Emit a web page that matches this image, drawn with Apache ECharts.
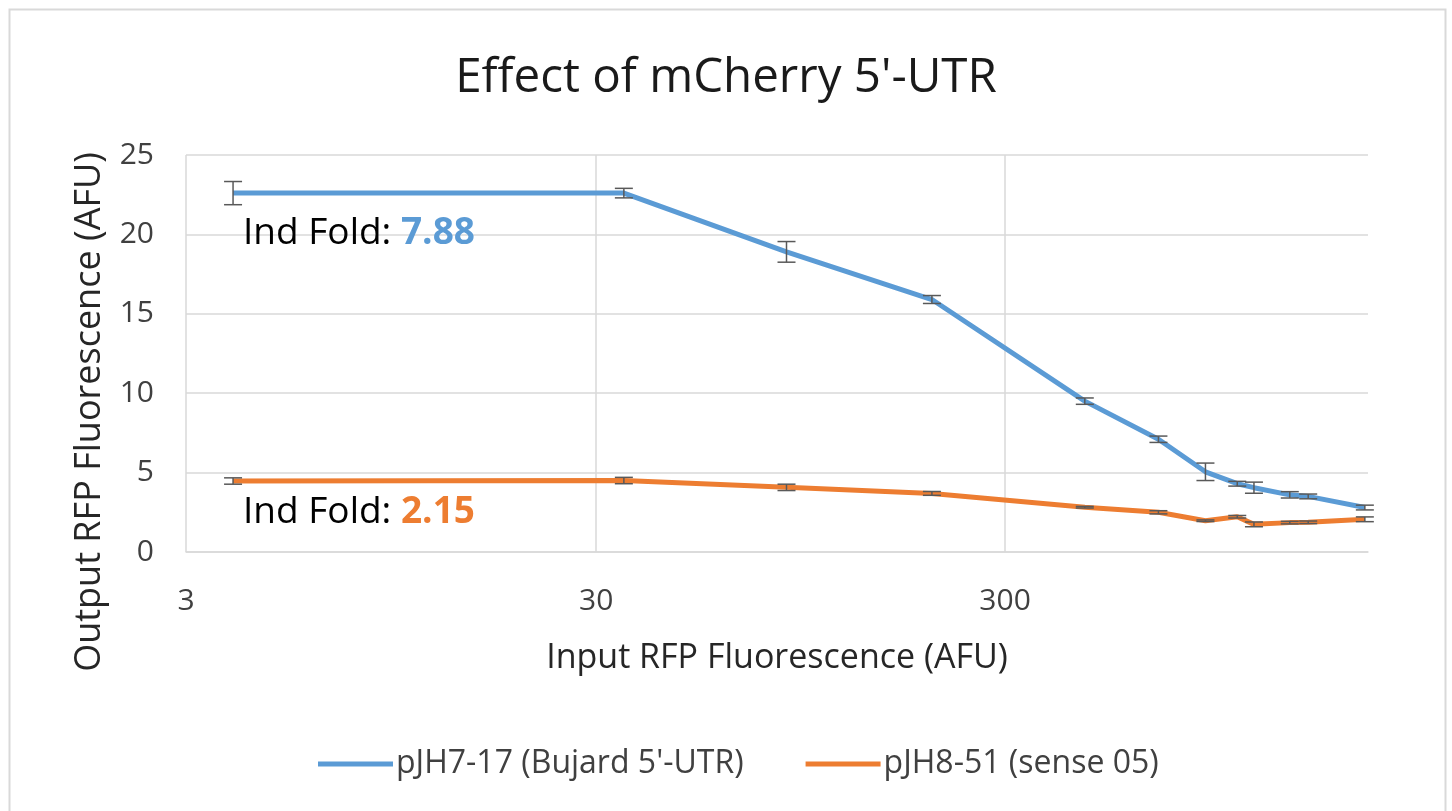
<!DOCTYPE html>
<html>
<head>
<meta charset="utf-8">
<script src="https://cdn.jsdelivr.net/npm/echarts@6/dist/echarts.min.js"></script>
<style>
  html, body { margin: 0; padding: 0; background: #fff; }
  #chart { width: 1452px; height: 811px; }
</style>
</head>
<body>
<div id="chart"></div>
<script>
// input RFP (x, log axis) shared by both constructs
var inputRFP = [3.91, 35.3, 88.2, 200, 473, 716, 933, 1116, 1226, 1500, 1664, 2289]
// pJH7-17 (Bujard 5'-UTR)
var bujardY = [22.6, 22.6, 18.9, 15.9, 9.5, 7.1, 5.05, 4.3, 4.05, 3.6, 3.5, 2.8]
var bujardErr = [0.73, 0.3, 0.65, 0.25, 0.2, 0.2, 0.55, 0.15, 0.35, 0.2, 0.15, 0.15]
// pJH8-51 (sense 05)
var senseY = [4.47, 4.5, 4.07, 3.69, 2.82, 2.5, 1.97, 2.22, 1.74, 1.85, 1.87, 2.06]
var senseErr = [0.2, 0.2, 0.2, 0.12, 0.05, 0.1, 0.05, 0.08, 0.15, 0.08, 0.08, 0.15]

var xTicks = [3, 30, 300]
var seriesNames = ["pJH7-17 (Bujard 5'-UTR)", "pJH8-51 (sense 05)"]
var blue = '#5B9BD5', orange = '#ED7D31'
var gridColor = '#d9d9d9'
var font = 'Open Sans'

function pairs(xs, ys) {
    var out = []
    for (var i = 0; i < xs.length; i++) out.push([xs[i], ys[i]])
    return out
}
function errRows(xs, ys, es) {
    var out = []
    for (var i = 0; i < xs.length; i++) out.push([xs[i], ys[i] - es[i], ys[i] + es[i]])
    return out
}

// log ticks come out as 3, 30.19.., 301.9.. -> show the nice value
function xLabel(v) {
    for (var i = 0; i < xTicks.length; i++) {
        if (Math.abs(v - xTicks[i]) < 0.03 * xTicks[i]) return String(xTicks[i])
    }
    return ''
}

// draws the I-shaped error bar
function renderErr(params, api) {
    var x = api.value(0)
    var top = api.coord([x, api.value(2)])
    var bot = api.coord([x, api.value(1)])
    var w = 9
    var style = { stroke: '#595959', lineWidth: 1.5 }
    return {
        type: 'group',
        children: [
            { type: 'line', shape: { x1: top[0], y1: top[1], x2: bot[0], y2: bot[1] }, style: style },
            { type: 'line', shape: { x1: top[0] - w, y1: top[1], x2: top[0] + w, y2: top[1] }, style: style },
            { type: 'line', shape: { x1: bot[0] - w, y1: bot[1], x2: bot[0] + w, y2: bot[1] }, style: style }
        ]
    }
}

var chart = echarts.init(document.getElementById('chart'))
var option = {
    animation: false,
    textStyle: { fontFamily: font },
    title: {
        text: "Effect of mCherry 5'-UTR",
        left: 'center',
        top: 49,
        textStyle: { fontFamily: font, fontSize: 47.5, fontWeight: 'normal', color: '#1a1a1a' }
    },
    legend: {
        data: seriesNames,
        left: 313,
        top: 743,
        icon: 'rect',
        itemWidth: 75,
        itemHeight: 5,
        itemGap: 62,
        textStyle: { fontFamily: font, fontSize: 32, color: '#404040', padding: [0, 0, 0, -2] }
    },
    grid: { left: 186, right: 84, top: 155, bottom: 259 },
    xAxis: {
        type: 'log',
        logBase: 10,
        min: 3,
        max: 2330,
        interval: 1,
        name: 'Input RFP Fluorescence (AFU)',
        nameLocation: 'middle',
        nameGap: 89,
        nameTextStyle: { fontFamily: font, fontSize: 34, color: '#262626' },
        axisLine: { show: true, lineStyle: { color: gridColor, width: 1.5 } },
        axisTick: { show: false },
        axisLabel: {
            margin: 34,
            fontSize: 30,
            color: '#404040',
            showMaxLabel: false,
            formatter: xLabel
        },
        splitLine: { show: true, showMaxLine: false, lineStyle: { color: gridColor, width: 1.5 } }
    },
    yAxis: {
        type: 'value',
        min: 0,
        max: 25,
        interval: 5,
        axisLine: { show: false },
        axisTick: { show: false },
        axisLabel: { margin: 32, fontSize: 30, color: '#404040' },
        splitLine: { lineStyle: { color: gridColor, width: 1.5 } }
    },
    graphic: [
        {
            type: 'rect',
            shape: { x: 9.5, y: 9.5, width: 1436, height: 820 },
            style: { fill: 'none', stroke: gridColor, lineWidth: 2 },
            silent: true
        },
        {
            // y axis title sits lower than the plot centre in the original
            type: 'text',
            x: 90, y: 412,
            rotation: Math.PI / 2,
            style: {
                text: 'Output RFP Fluorescence (AFU)',
                fontFamily: font, fontSize: 36, fill: '#262626',
                align: 'center', verticalAlign: 'middle'
            }
        },
        {
            type: 'text',
            x: 243, y: 233,
            z: 10,
            style: {
                text: '{a|Ind Fold: }{b|7.88}',
                verticalAlign: 'middle',
                rich: {
                    a: { fontFamily: font, fontSize: 37, fill: '#000' },
                    b: { fontFamily: font, fontSize: 37, fontWeight: 'bold', fill: blue }
                }
            }
        },
        {
            type: 'text',
            x: 243, y: 512,
            z: 10,
            style: {
                text: '{a|Ind Fold: }{b|2.15}',
                verticalAlign: 'middle',
                rich: {
                    a: { fontFamily: font, fontSize: 37, fill: '#000' },
                    b: { fontFamily: font, fontSize: 37, fontWeight: 'bold', fill: orange }
                }
            }
        }
    ],
    series: [
        {
            name: seriesNames[0],
            type: 'line',
            data: pairs(inputRFP, bujardY),
            showSymbol: false,
            symbol: 'none',
            color: blue,
            lineStyle: { color: blue, width: 5 },
            z: 3
        },
        {
            name: seriesNames[1],
            type: 'line',
            data: pairs(inputRFP, senseY),
            showSymbol: false,
            symbol: 'none',
            color: orange,
            lineStyle: { color: orange, width: 5 },
            z: 3
        },
        {
            name: 'err1',
            type: 'custom',
            renderItem: renderErr,
            data: errRows(inputRFP, bujardY, bujardErr),
            encode: { x: 0, y: [1, 2] },
            z: 5,
            silent: true
        },
        {
            name: 'err2',
            type: 'custom',
            renderItem: renderErr,
            data: errRows(inputRFP, senseY, senseErr),
            encode: { x: 0, y: [1, 2] },
            z: 5,
            silent: true
        }
    ]
}
chart.setOption(option)
</script>
</body>
</html>
